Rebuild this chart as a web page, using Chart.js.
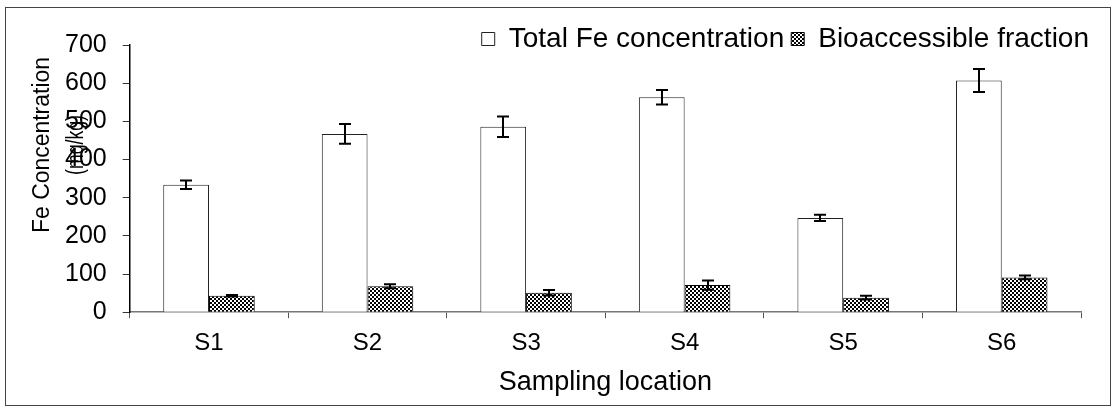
<!DOCTYPE html>
<html>
<head>
<meta charset="utf-8">
<script src="https://cdn.jsdelivr.net/npm/chart.js@4.4.0/dist/chart.umd.min.js"></script>
<style>
  html, body { margin: 0; padding: 0; background: #fff; }
  #wrap { width: 1113px; height: 407px; position: relative; }
</style>
</head>
<body>
<div id="wrap"><canvas id="c" width="1113" height="407"></canvas></div>
<script>
// ---- data ----
const categories = ['S1', 'S2', 'S3', 'S4', 'S5', 'S6'];
const totalFe = [334, 467, 486, 563, 247, 607];
const totalFeErr = [11, 26, 27, 19, 8, 30];
const bioFe = [43, 68, 51, 71, 38, 91];
const bioFeErr = [2, 5, 7, 12, 5, 5];
const seriesNames = ['Total Fe concentration', 'Bioaccessible fraction'];
const yAxisTitle = ['Fe Concentration', '(mg/kg)'];
const xAxisTitle = 'Sampling location';
const yMin = 0, yMax = 700, yStep = 100;

const FONT = '"Liberation Sans", Arial, Helvetica, sans-serif';

// checkerboard pattern
function makePattern() {
  const p = document.createElement('canvas');
  p.width = 4; p.height = 4;
  const g = p.getContext('2d');
  g.fillStyle = '#ffffff';
  g.fillRect(0, 0, 4, 4);
  g.fillStyle = '#000000';
  g.fillRect(0, 0, 2, 2);
  g.fillRect(2, 2, 2, 2);
  return g.createPattern(p, 'repeat');
}
const hatch = makePattern();

const errorBars = {
  id: 'errorBars',
  afterDatasetsDraw(chart) {
    const ctx = chart.ctx;
    const ys = chart.scales.y;
    const errs = [totalFeErr, bioFeErr];
    const vals = [totalFe, bioFe];
    ctx.save();
    ctx.strokeStyle = '#000';
    ctx.lineWidth = 2;
    for (let d = 0; d < 2; d++) {
      const meta = chart.getDatasetMeta(d);
      meta.data.forEach((bar, i) => {
        const x = Math.round(bar.x);
        const yt = ys.getPixelForValue(vals[d][i] + errs[d][i]);
        const yb = ys.getPixelForValue(vals[d][i] - errs[d][i]);
        ctx.beginPath();
        ctx.moveTo(x, yt); ctx.lineTo(x, yb);
        ctx.moveTo(x - 6, yt); ctx.lineTo(x + 6, yt);
        ctx.moveTo(x - 6, yb); ctx.lineTo(x + 6, yb);
        ctx.stroke();
      });
    }
    ctx.restore();
  }
};

const frame = {
  id: 'frame',
  afterLayout(chart) {
    // legend sits overlapping the top of the plot area, as in the reference
    const lg = chart.legend;
    if (lg) {
      const dy = 18 - lg.top;
      lg.top += dy; lg.bottom += dy;
      const dx = 15;
      lg.left += dx; lg.right += dx;
    }
  },
  beforeDraw(chart) {
    const ctx = chart.ctx;
    ctx.save();
    ctx.fillStyle = '#fff';
    ctx.fillRect(0, 0, chart.width, chart.height);
    ctx.strokeStyle = '#444';
    ctx.lineWidth = 1;
    ctx.strokeRect(5.5, 7.5, 1105, 398);
    ctx.restore();
  },
  afterDraw(chart) {
    const ctx = chart.ctx;
    ctx.save();
    ctx.fillStyle = '#000';
    ctx.font = '23px ' + FONT;
    ctx.textAlign = 'center';
    ctx.textBaseline = 'middle';
    ctx.translate(43, 145);
    ctx.rotate(-Math.PI / 2);
    ctx.fillText(yAxisTitle[0], 0, 0, 176);
    ctx.fillText(yAxisTitle[1], 0, 34, 60);
    ctx.restore();
  }
};

new Chart(document.getElementById('c'), {
  type: 'bar',
  data: {
    labels: categories,
    datasets: [
      {
        label: seriesNames[0],
        data: totalFe,
        backgroundColor: '#ffffff',
        borderColor: '#222222',
        borderWidth: 1,
        categoryPercentage: 0.577,
        barPercentage: 1.0
      },
      {
        label: seriesNames[1],
        data: bioFe,
        backgroundColor: hatch,
        borderColor: '#000000',
        borderWidth: 1,
        categoryPercentage: 0.577,
        barPercentage: 1.0
      }
    ]
  },
  options: {
    responsive: false,
    animation: false,
    devicePixelRatio: 1,
    layout: { padding: { left: 49, right: 32, top: 0, bottom: 11 } },
    plugins: {
      legend: {
        position: 'top',
        align: 'end',
        labels: {
          font: { family: FONT, size: 28 },
          color: '#000',
          boxWidth: 13,
          boxHeight: 13,
          padding: 7
        }
      },
      tooltip: { enabled: false }
    },
    scales: {
      x: {
        offset: true,
        grid: {
          display: true,
          drawOnChartArea: false,
          offset: true,
          color: '#555',
          tickLength: 6,
          lineWidth: 1
        },
        border: { display: true, color: '#777', width: 1.5 },
        ticks: {
          font: { family: FONT, size: 24 },
          color: '#000',
          padding: 11
        },
        title: {
          display: true,
          text: xAxisTitle,
          font: { family: FONT, size: 27, lineHeight: 1.0 },
          color: '#000',
          padding: { top: 0, bottom: 0 }
        }
      },
      y: {
        min: yMin,
        max: yMax,
        ticks: {
          stepSize: yStep,
          font: { family: FONT, size: 25 },
          color: '#000',
          padding: 16
        },
        grid: {
          display: true,
          drawOnChartArea: false,
          color: '#333',
          tickLength: 7
        },
        border: { display: true, color: '#000', width: 1.5 }
      }
    }
  },
  plugins: [frame, errorBars]
});
</script>
</body>
</html>
